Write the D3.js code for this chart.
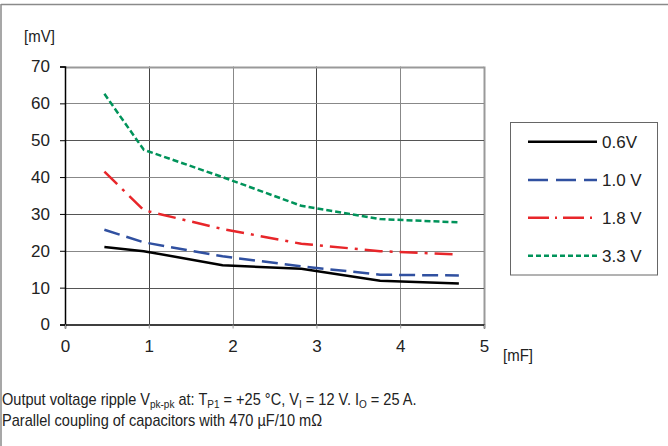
<!DOCTYPE html>
<html><head><meta charset="utf-8">
<script src="https://cdn.jsdelivr.net/npm/d3@7"></script>
<style>body{margin:0;background:#fff}svg{display:block;font-family:"Liberation Sans",Arial,sans-serif}</style>
</head><body>
<script>
const xValues = [0.47, 0.94, 1.88, 2.82, 3.76, 4.70];
const v06 = [21.0, 19.9, 16.1, 15.1, 11.9, 11.1];
const v10 = [25.7, 22.3, 18.5, 15.8, 13.5, 13.3];
const v18 = [41.5, 31.0, 25.9, 21.9, 19.9, 19.0];
const v33 = [62.6, 47.4, 40.0, 32.2, 28.6, 27.7];
const seriesNames = ["0.6V", "1.0 V", "1.8 V", "3.3 V"];
const xTicks = [0, 1, 2, 3, 4, 5];
const yTicks = [0, 10, 20, 30, 40, 50, 60, 70];

const W = 668, H = 446;
const svg = d3.select("body").append("svg").attr("width", W).attr("height", H);

// outer frame
svg.append("line").attr("x1", 1).attr("x2", W).attr("y1", 4.5).attr("y2", 4.5).attr("stroke", "#8a8a8a").attr("stroke-width", 1.5);
svg.append("line").attr("x1", 1).attr("x2", 1).attr("y1", 4).attr("y2", H).attr("stroke", "#8a8a8a").attr("stroke-width", 1.5);

const x = d3.scaleLinear().domain([0, 5]).range([65, 484]);
const y = d3.scaleLinear().domain([0, 70]).range([324.5, 66.5]);

// grid
const g = svg.append("g");
g.selectAll(".gx").data(xTicks.slice(1)).join("line")
  .attr("x1", d => Math.round(x(d)) + 0.5).attr("x2", d => Math.round(x(d)) + 0.5)
  .attr("y1", y(70)).attr("y2", y(0))
  .attr("stroke", (d, i) => d === 5 ? "#999" : (i % 2 ? "#888" : "#444")).attr("stroke-width", d => d === 5 ? 2 : 1);
g.selectAll(".gy").data(yTicks.slice(1)).join("line")
  .attr("x1", x(0)).attr("x2", x(5))
  .attr("y1", d => Math.round(y(d)) + 0.5).attr("y2", d => Math.round(y(d)) + 0.5)
  .attr("stroke", d => d === 70 ? "#999" : (d % 20 ? "#555" : "#888")).attr("stroke-width", d => d === 70 ? 2 : 1);

// axes
const yAxis = d3.axisLeft(y).tickValues(yTicks).tickSize(5).tickPadding(10).tickFormat(d3.format("d"));
const ya = svg.append("g").attr("transform", `translate(${x(0)},0)`).call(yAxis);
ya.select(".domain").attr("stroke", "#000").attr("stroke-width", 1.5);
ya.selectAll(".tick line").attr("stroke", "#000");
ya.selectAll("text").attr("font-size", 17).attr("fill", "#222").attr("font-family", "Liberation Sans, Arial, sans-serif");

const xAxis = d3.axisBottom(x).tickValues(xTicks).tickSize(4).tickPadding(11).tickFormat(d3.format("d"));
const xa = svg.append("g").attr("transform", `translate(0,${y(0)})`).call(xAxis);
xa.select(".domain").attr("stroke", "#000").attr("stroke-width", 1.5);
xa.selectAll(".tick line").attr("stroke", "#999");
xa.selectAll("text").attr("font-size", 17).attr("fill", "#222").attr("font-family", "Liberation Sans, Arial, sans-serif");

const sx = 0.91;
svg.append("text").attr("transform", `translate(24,42) scale(${sx},1)`).attr("font-size", 16.5).attr("fill", "#222").text("[mV]");
svg.append("text").attr("transform", `translate(503,361) scale(${sx},1)`).attr("font-size", 16.5).attr("fill", "#222").text("[mF]");

// series
const data = [v06, v10, v18, v33];
const colors = ["#000000", "#3050a0", "#e8262a", "#00935a"];
const dashes = [null, "16,7", "18,7,3,7", "6,3"];
const line = d3.line().x((d, i) => x(xValues[i])).y(d => y(d));
data.forEach((s, k) => {
  svg.append("path").datum(s).attr("d", line).attr("fill", "none")
    .attr("stroke", colors[k]).attr("stroke-width", 2.5)
    .attr("stroke-dasharray", dashes[k]);
});

// legend
svg.append("rect").attr("x", 510.5).attr("y", 122.5).attr("width", 147).attr("height", 152.5)
  .attr("fill", "#fff").attr("stroke", "#666").attr("stroke-width", 1);
const legY = [141.7, 180, 217.7, 255.7];
const legendDashes = [null, "20,8", "21,6,2,6", "5,3"];
seriesNames.forEach((n, k) => {
  svg.append("line").attr("x1", 528).attr("x2", 597).attr("y1", legY[k]).attr("y2", legY[k])
    .attr("stroke", colors[k]).attr("stroke-width", 2.5).attr("stroke-dasharray", legendDashes[k]);
  svg.append("text").attr("x", 602).attr("y", legY[k] + 6).attr("font-size", 17).attr("fill", "#222").text(n);
});

// caption
const cap = svg.append("g").attr("font-size", 16).attr("fill", "#222").attr("transform", `translate(2,0) scale(${sx},1)`);
const t1 = cap.append("text").attr("x", 0).attr("y", 405);
t1.append("tspan").text("Output voltage ripple V");
t1.append("tspan").attr("font-size", 11).attr("dy", 3).text("pk-pk");
t1.append("tspan").attr("dy", -3).text(" at: T");
t1.append("tspan").attr("font-size", 11).attr("dy", 3).text("P1");
t1.append("tspan").attr("dy", -3).text(" = +25 °C, V");
t1.append("tspan").attr("font-size", 11).attr("dy", 3).text("I");
t1.append("tspan").attr("dy", -3).text(" = 12 V. I");
t1.append("tspan").attr("font-size", 11).attr("dy", 3).text("O");
t1.append("tspan").attr("dy", -3).text(" = 25 A.");
cap.append("text").attr("x", 0).attr("y", 426.5).text("Parallel coupling of capacitors with 470 µF/10 mΩ");
</script>
</body></html>
